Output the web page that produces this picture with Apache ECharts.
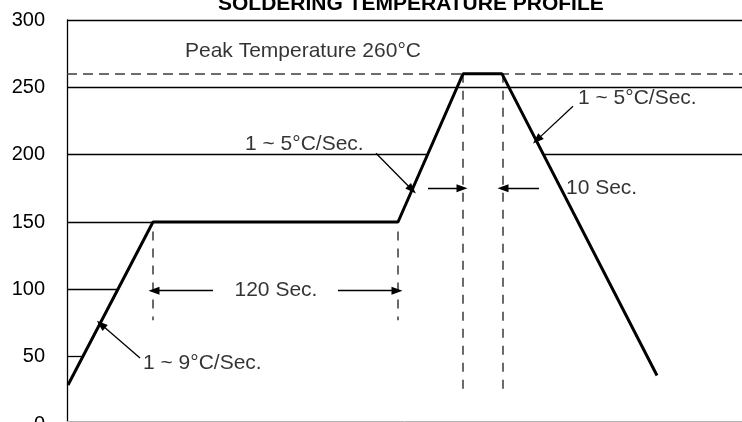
<!DOCTYPE html>
<html>
<head>
<meta charset="utf-8">
<script src="https://cdn.jsdelivr.net/npm/echarts@6/dist/echarts.min.js"></script>
<style>html,body{margin:0;padding:0;background:#fff}#c{width:742px;height:422px}</style>
</head>
<body>
<div id="c"></div>
<script>
// ---- data ----
const profileTime = [1, 86, 331, 396, 435, 590];
const profileTemp = [29, 150, 150, 260, 260, 36];
const yTickLabels = [0, 50, 100, 150, 200, 250, 300];
const peakTemp = 260;
const titleText = 'SOLDERING TEMPERATURE PROFILE';
const noteTexts = ['Peak Temperature 260°C', '1 ~ 5°C/Sec.', '1 ~ 5°C/Sec.', '1 ~ 9°C/Sec.', '120 Sec.', '10 Sec.'];

// ---- layout (data units) ----
const X_MAX = 675;
const FONT = "'Liberation Sans', Arial, Helvetica, sans-serif";
const FS = 21;
const notePos = [
  {x: 118, y: 277, align: 'left'},
  {x: 178, y: 208, align: 'left'},
  {x: 511, y: 242, align: 'left'},
  {x: 76, y: 45, align: 'left'},
  {x: 209, y: 99, align: 'center'},
  {x: 499, y: 175, align: 'left'}
];
const leaders = [
  [[309, 201], [345, 174]],
  [[506, 236], [470, 211]],
  [[73, 49], [34, 74]]
];
const spanArrows = [
  [[146, 99], [87, 99]], [[271, 99], [330, 99]],
  [[361, 175], [395, 175]], [[472, 175], [436, 175]]
];

function riseX(level) {
  for (let i = 0; i < profileTime.length - 1; i++) {
    const a = profileTemp[i], b = profileTemp[i + 1];
    if (b > a && level >= a && level <= b) return profileTime[i] + (level - a) / (b - a) * (profileTime[i + 1] - profileTime[i]);
  }
  return null;
}
function fallX(level) {
  for (let i = 0; i < profileTime.length - 1; i++) {
    const a = profileTemp[i], b = profileTemp[i + 1];
    if (b < a && level <= a && level >= b) return profileTime[i] + (a - level) / (a - b) * (profileTime[i + 1] - profileTime[i]);
  }
  return null;
}

const gridStyle = {color: '#000', width: 1.3, type: 'solid'};
const gridLines = [];
yTickLabels.forEach(v => {
  if (v === 0) return;
  if (v === 250 || v === 300) {
    gridLines.push([{coord: [0, v]}, {coord: [X_MAX, v]}]);
  } else if (v === 200) {
    gridLines.push([{coord: [0, v]}, {coord: [riseX(v), v]}]);
    gridLines.push([{coord: [fallX(v), v]}, {coord: [X_MAX, v]}]);
  } else {
    gridLines.push([{coord: [0, v]}, {coord: [riseX(v), v]}]);
  }
});
// faint bottom frame line
gridLines.push([{coord: [0, 2.2], lineStyle: {color: '#b4b4b4', width: 1}}, {coord: [X_MAX, 2.2]}]);

const dashStyle = {color: '#3a3a3a', width: 1.5, type: [9, 8]};
const dashLines = [
  [{coord: [0, peakTemp], lineStyle: {color: '#3a3a3a', width: 1.5, type: [10, 6]}}, {coord: [X_MAX, peakTemp]}],
  [{coord: [profileTime[1], 143]}, {coord: [profileTime[1], 77]}],
  [{coord: [profileTime[2], 143]}, {coord: [profileTime[2], 77]}],
  [{coord: [profileTime[3], peakTemp]}, {coord: [profileTime[3], 24]}],
  [{coord: [profileTime[4] + 1, peakTemp]}, {coord: [profileTime[4] + 1, 24]}]
];

const arrowLines = leaders.concat(spanArrows).map(p => [{coord: p[0]}, {coord: p[1]}]);

const chart = echarts.init(document.getElementById('c'), null, {renderer: 'canvas'});
chart.setOption({
  animation: false,
  backgroundColor: '#fff',
  title: {
    text: titleText, left: 213, top: -11,
    textStyle: {fontFamily: FONT, fontWeight: 'bold', fontSize: 21, color: '#000'}
  },
  grid: {left: 67, right: 0, top: 20, bottom: -2, containLabel: false, outerBoundsMode: 'none'},
  xAxis: {type: 'value', min: 0, max: X_MAX, show: false},
  yAxis: {
    type: 'value', min: 0, max: 300, interval: 50,
    axisLine: {show: true, lineStyle: {color: '#000', width: 1.3}},
    axisTick: {show: false},
    splitLine: {show: false},
    axisLabel: {color: '#000', fontSize: 20, fontFamily: FONT, margin: 22,
      formatter: v => yTickLabels.indexOf(v) >= 0 ? String(v) : ''}
  },
  series: [
    {
      type: 'line', data: [], silent: true,
      markLine: {silent: true, symbol: ['none', 'none'], label: {show: false}, lineStyle: gridStyle, data: gridLines}
    },
    {
      type: 'line', data: [], silent: true,
      markLine: {silent: true, symbol: ['none', 'none'], label: {show: false}, lineStyle: dashStyle, data: dashLines}
    },
    {
      type: 'line', data: [], silent: true,
      markLine: {silent: true, symbol: ['none', 'triangle'], symbolSize: [8, 11], label: {show: false},
        lineStyle: {color: '#000', width: 1.3, type: 'solid'}, itemStyle: {color: '#000'}, data: arrowLines}
    },
    {
      type: 'line', silent: true, showSymbol: false, symbol: 'none',
      lineStyle: {color: '#000', width: 3}, z: 5,
      data: profileTime.map((t, i) => [t, profileTemp[i]])
    },
    {
      type: 'scatter', silent: true, symbolSize: 0.1, z: 6,
      data: noteTexts.map((t, i) => ({
        value: [notePos[i].x, notePos[i].y],
        label: {show: true, position: [0, 0], align: notePos[i].align, verticalAlign: 'middle',
          formatter: t, fontSize: FS, fontFamily: FONT, color: '#000'}
      }))
    }
  ]
});
</script>
</body>
</html>
